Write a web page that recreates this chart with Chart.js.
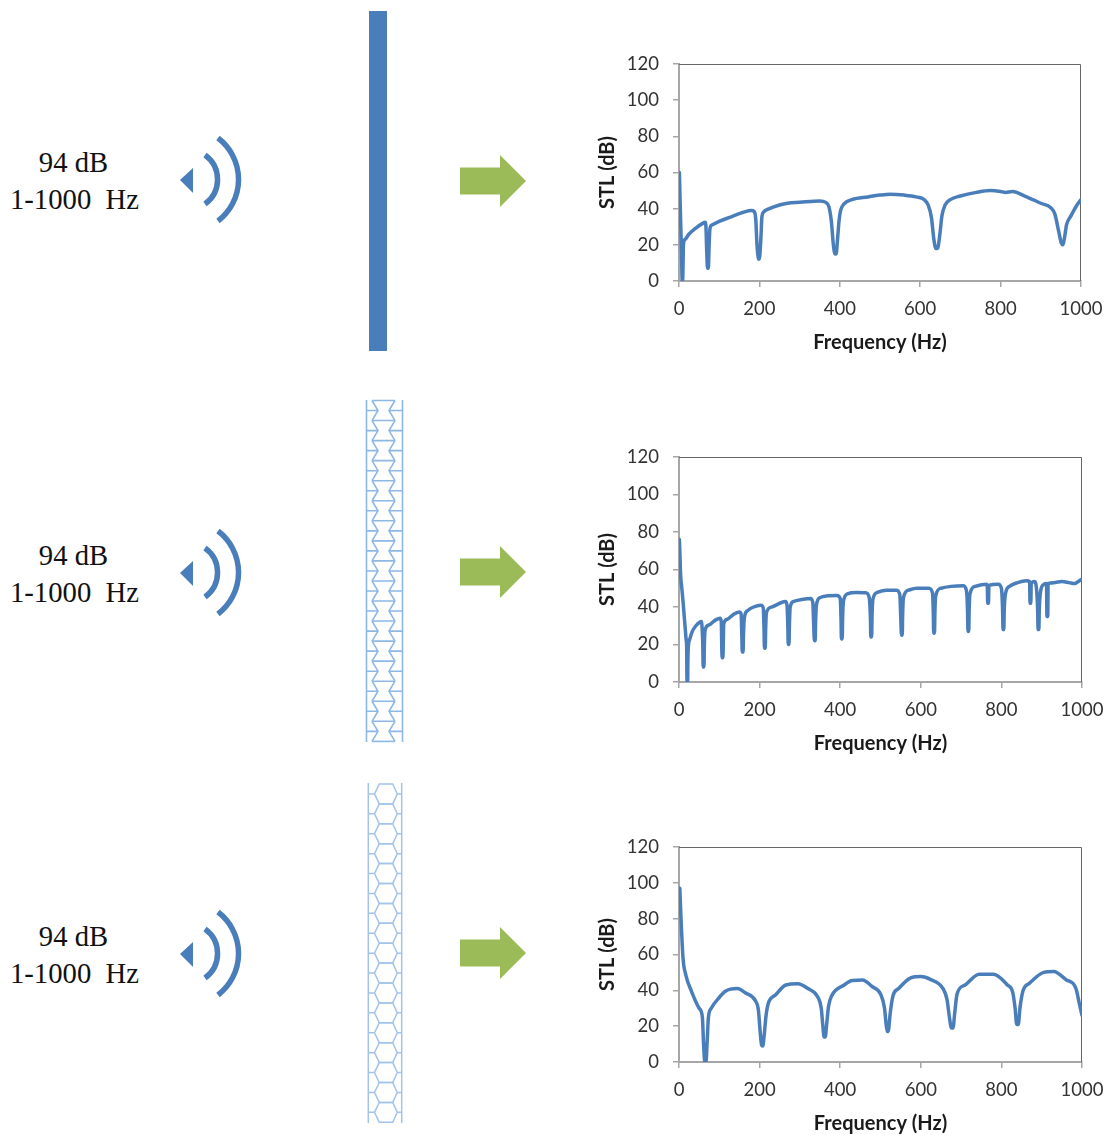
<!DOCTYPE html>
<html>
<head>
<meta charset="utf-8">
<title>STL panels</title>
<script src="https://cdn.jsdelivr.net/npm/chart.js@4"></script>
<style>
  html, body { margin: 0; padding: 0; background: #fff; }
  #page { position: relative; width: 1110px; height: 1135px; overflow: hidden; }
  #decor { position: absolute; left: 0; top: 0; }
  canvas { position: absolute; }
</style>
</head>
<body>
<div id="page">
  <svg id="decor" width="1110" height="1135" xmlns="http://www.w3.org/2000/svg"></svg>
  <canvas id="stl1"></canvas>
  <canvas id="stl2"></canvas>
  <canvas id="stl3"></canvas>
</div>
<script>
// values
const freqTicks = [0, 200, 400, 600, 800, 1000];
const stlTicks = [0, 20, 40, 60, 80, 100, 120];

const freq1 = [1, 3, 6, 8, 9, 10, 11, 15, 25, 40, 60, 65, 67, 69, 71, 73, 75, 77, 82, 100, 130, 160, 180, 187, 191, 194, 197, 199, 201, 204, 206, 210, 225, 250, 270, 300, 350, 365, 373, 379, 384, 388, 391, 394, 398, 402, 410, 430, 470, 500, 525, 560, 590, 610, 620, 628, 634, 639, 643, 649, 654, 662, 675, 700, 740, 775, 800, 812, 830, 860, 900, 925, 935, 944, 951, 955, 959, 964, 975, 990, 1000];
const stl1 = [60, 42, 18, 0, 0, 8, 20, 23, 26, 29, 32, 32.5, 30, 16, 7, 7, 20, 29, 31, 33, 35.5, 38, 39, 38.5, 34, 20, 13, 12, 14, 25, 35, 38, 40, 42, 43, 43.5, 44.3, 43.5, 41, 33, 20, 15, 15, 22, 33, 39, 42.5, 45, 46.5, 47.5, 48, 47.5, 46.5, 45, 42, 35, 23, 18, 18, 26, 36, 42, 45, 47, 49, 50, 49.5, 49, 49.5, 47, 43, 40.5, 37, 28, 21, 20, 24, 31, 36, 42, 45];

const freq2 = [1, 2, 4, 7, 10, 13, 16, 18, 19, 19.5, 20, 21.5, 22, 23, 27, 33, 42, 52, 56, 57, 59, 60, 62, 63, 65, 75, 90, 102, 105, 106, 107, 109, 110, 111, 120, 135, 150, 154, 156, 157, 159, 160, 162, 170, 185, 203, 209, 211, 212, 214, 215, 217, 230, 250, 264, 268, 270, 271, 273, 274, 276, 285, 305, 326, 332, 334, 336, 338, 339, 341, 350, 370, 392, 400, 402, 403, 405, 406, 408, 418, 440, 463, 472, 475, 476, 478, 479, 481, 492, 515, 540, 548, 550, 552, 554, 555, 557, 570, 590, 620, 629, 631, 632, 634, 635, 637, 650, 675, 705, 713, 716, 717, 719, 720, 722, 735, 763, 765, 766, 768, 769, 792, 800, 803, 804, 806, 807, 810, 820, 840, 862, 870, 871, 873, 874, 882, 887, 890, 891, 893, 894, 897, 905, 912, 913, 915, 916, 930, 950, 968, 982, 990, 1000];
const stl2 = [76, 70, 57, 50, 43, 35, 27, 22, 19, 5, 0, 0, 10, 18, 23, 27, 30, 32, 32.3, 30, 20, 8, 8, 20, 28, 30.5, 33, 34, 32, 20, 13, 13, 22, 31, 33.5, 36, 37.4, 36.5, 24, 16, 16, 25, 34, 38, 40, 41, 39.5, 28, 18, 18, 28, 37, 40, 42, 43, 41, 30, 20, 20, 30, 40, 43, 44, 44.5, 42.5, 32, 22, 22, 32, 41, 45, 46, 46.2, 44.5, 34, 23, 23, 34, 43, 47, 47.7, 47.6, 45, 34, 24, 24, 35, 44, 47.8, 49, 49, 46.5, 36, 25, 25, 36, 45, 49, 50, 50, 47.5, 37, 26, 26, 37, 46, 50, 51, 51.4, 49, 38, 27, 27, 38, 47, 51, 52.2, 51, 42, 42, 51.5, 52.2, 50, 38, 28, 28, 38, 47, 51, 53, 54, 53.6, 42, 42, 52.5, 53.6, 50, 38, 28, 28, 38, 48, 52, 52.5, 35, 35, 52.5, 53, 53.6, 53, 52.5, 53.5, 55];

const freq3 = [2, 5, 10, 17, 30, 50, 58, 61, 64, 67, 70, 73, 80, 100, 115, 145, 165, 190, 197, 201, 205, 208, 211, 216, 222, 240, 265, 295, 320, 345, 353, 357, 360, 363, 366, 371, 379, 410, 430, 455, 480, 500, 510, 514, 517, 520, 524, 531, 545, 575, 600, 625, 655, 665, 671, 676, 680, 684, 690, 710, 745, 780, 815, 828, 834, 838, 842, 846, 854, 870, 905, 930, 960, 985, 993, 1000];
const stl3 = [97, 80, 58, 48.5, 40, 30, 25, 10, 0, 0, 12, 25, 30, 36, 39.5, 41, 38.5, 34, 29, 18, 9.5, 9, 14, 26, 33, 37.5, 43, 43.7, 41, 36, 30, 20, 14, 14, 20, 31, 37, 43, 45.5, 45.7, 42, 38, 30, 21, 17, 18, 27, 37, 41, 47, 47.7, 46, 41, 35, 25, 19, 19, 27, 38, 43, 49, 49, 43, 39, 30, 21, 21, 30, 40, 44, 50, 50.5, 46, 41, 33, 26];

const lineColor = '#4a7ebb';
const axisColor = '#a6a6a6';
const frameColor = '#666666';
const textColor = '#333333';
const uiFont = 'Lato';

// top and right edge of the plot box
const framePlugin = {
  id: 'plotFrame',
  beforeDatasetsDraw(chart) {
    const a = chart.chartArea;
    const c = chart.ctx;
    c.save();
    c.strokeStyle = frameColor;
    c.lineWidth = 1;
    c.beginPath();
    c.moveTo(a.left, a.top + 0.5);
    c.lineTo(a.right - 0.5, a.top + 0.5);
    c.lineTo(a.right - 0.5, a.bottom);
    c.stroke();
    c.restore();
  }
};

function makeChart(id, freq, stl, box) {
  const canvas = document.getElementById(id);
  const left = 590, top = box.top - 20;
  const width = 520, height = 20 + (box.bottom - box.top) + 76;
  canvas.width = width;
  canvas.height = height;
  canvas.style.left = left + 'px';
  canvas.style.top = top + 'px';
  canvas.style.width = width + 'px';
  canvas.style.height = height + 'px';

  new Chart(canvas.getContext('2d'), {
    type: 'scatter',
    data: {
      datasets: [{
        data: freq.map((f, i) => ({ x: f, y: stl[i] })),
        showLine: true,
        borderColor: lineColor,
        borderWidth: 3.5,
        borderJoinStyle: 'round',
        borderCapStyle: 'round',
        pointRadius: 0,
        cubicInterpolationMode: 'monotone'
      }]
    },
    options: {
      responsive: false,
      animation: false,
      events: [],
      layout: { padding: { top: 20, right: width - (box.right - left), left: 0, bottom: 0 } },
      plugins: { legend: { display: false }, title: { display: false }, tooltip: { enabled: false } },
      scales: {
        x: {
          type: 'linear',
          min: freqTicks[0],
          max: freqTicks[freqTicks.length - 1],
          afterBuildTicks: ax => { ax.ticks = freqTicks.map(v => ({ value: v })); },
          // fixed box, no extra room for the end labels
          afterFit: ax => { ax.height = 76; ax.paddingLeft = 0; ax.paddingRight = 0; },
          grid: { drawOnChartArea: false, drawTicks: true, tickLength: 6, color: axisColor, lineWidth: 1.5 },
          border: { color: axisColor, width: 2 },
          ticks: { color: textColor, font: { family: uiFont, size: 18.5 }, padding: 10.5, maxRotation: 0, autoSkip: false, callback: v => String(v) },
          title: {
            display: true,
            text: 'Frequency (Hz)',
            color: '#1a1a1a',
            font: { family: uiFont, size: 20, weight: 'bold' },
            padding: { top: 4, bottom: 2 }
          }
        },
        y: {
          min: stlTicks[0],
          max: stlTicks[stlTicks.length - 1],
          afterBuildTicks: ax => { ax.ticks = stlTicks.map(v => ({ value: v })); },
          afterFit: ax => { ax.width = 89; ax.paddingTop = 0; ax.paddingBottom = 0; },
          grid: { drawOnChartArea: false, drawTicks: true, tickLength: 6, color: axisColor, lineWidth: 1.5 },
          border: { color: axisColor, width: 2 },
          ticks: { color: textColor, font: { family: uiFont, size: 18.5 }, padding: 14, autoSkip: false, callback: v => String(v) },
          title: {
            display: true,
            text: 'STL (dB)',
            color: '#1a1a1a',
            font: { family: uiFont, size: 20, weight: 'bold' },
            padding: { top: 6, bottom: 4 }
          }
        }
      }
    },
    plugins: [framePlugin]
  });
}

makeChart('stl1', freq1, stl1, { top: 64, bottom: 281, right: 1081 });
makeChart('stl2', freq2, stl2, { top: 457, bottom: 682, right: 1082 });
makeChart('stl3', freq3, stl3, { top: 847, bottom: 1062, right: 1082 });

// drawing around the charts: source text, speaker, panels, arrows
const svg = document.getElementById('decor');
function add(tag, attrs, text) {
  const el = document.createElementNS('http://www.w3.org/2000/svg', tag);
  Object.keys(attrs).forEach(k => el.setAttribute(k, attrs[k]));
  if (text) el.textContent = text;
  svg.appendChild(el);
  return el;
}

function drawRow(dy) {
  add('text', { x: 73.5, y: 172 + dy, 'text-anchor': 'middle', 'font-family': 'Liberation Serif', 'font-size': 28.7, fill: '#111' }, '94 dB');
  add('text', { x: 74.5, y: 209 + dy, 'text-anchor': 'middle', 'font-family': 'Liberation Serif', 'font-size': 28.7, fill: '#111', style: 'white-space:pre' }, '1-1000  Hz');
  add('path', { d: `M180 ${180 + dy} L193 ${168 + dy} L193 ${193 + dy} Z`, fill: '#4a7ebb' });
  add('path', { d: `M205 ${155 + dy} A30.2 30.2 0 0 1 205 ${204 + dy}`, fill: 'none', stroke: '#4a7ebb', 'stroke-width': 5.5 });
  add('path', { d: `M218 ${138 + dy} A52.2 52.2 0 0 1 218 ${221 + dy}`, fill: 'none', stroke: '#4a7ebb', 'stroke-width': 5.5 });
}
function drawArrow(cy) {
  add('path', { d: `M460 ${cy - 13.5} L500 ${cy - 13.5} L500 ${cy - 26} L526 ${cy} L500 ${cy + 26} L500 ${cy + 13.5} L460 ${cy + 13.5} Z`, fill: '#9bbb59' });
}

drawRow(0); drawRow(393); drawRow(774);
drawArrow(181); drawArrow(572); drawArrow(953);

// solid panel
add('rect', { x: 369, y: 11, width: 18, height: 340, fill: '#4a7ebb' });

// re-entrant lattice panel
const latticeStroke = { fill: 'none', stroke: '#8db8e6', 'stroke-width': 1.6 };
add('path', Object.assign({ d: 'M366.5 400 V742 M402.5 400 V742' }, latticeStroke));
for (let i = 0; i < 17; i++) {
  const y = 400.5 + i * 20.05;
  const h = 20.05;
  let d = `M372 ${y} H395 M372 ${y} L378 ${y + h / 2} L372 ${y + h} M395 ${y} L389 ${y + h / 2} L395 ${y + h}`;
  d += ` M366.5 ${y + h / 2} H378 M389 ${y + h / 2} H402.5`;
  add('path', Object.assign({ d }, latticeStroke));
}
add('path', Object.assign({ d: 'M372 741.4 H395' }, latticeStroke));

// honeycomb panel
const combStroke = { fill: 'none', stroke: '#a3c4ea', 'stroke-width': 1.5 };
add('path', Object.assign({ d: 'M368.3 783 V1123 M401.7 783 V1123' }, combStroke));
for (let i = 0; i < 17; i++) {
  const y = 784 + i * 19.9;
  const h = 19.9;
  const d = `M379.3 ${y} H392.7 L397.3 ${y + h / 2} L392.7 ${y + h} H379.3 L374.5 ${y + h / 2} Z M368.3 ${y + h / 2} H374.5 M397.3 ${y + h / 2} H401.7`;
  add('path', Object.assign({ d }, combStroke));
}
</script>
</body>
</html>
